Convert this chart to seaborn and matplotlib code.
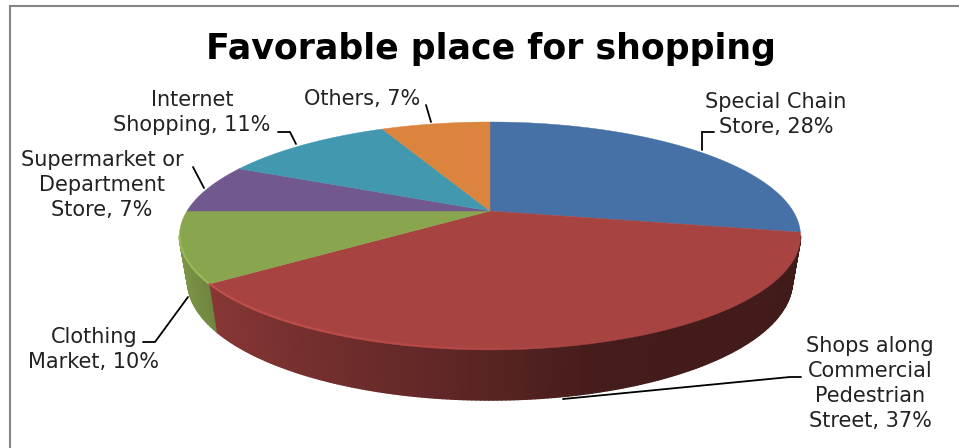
import numpy as np
import matplotlib
matplotlib.use("Agg")
import matplotlib.pyplot as plt
from matplotlib.collections import LineCollection, PolyCollection
import seaborn as sns

# Share of respondents per shopping place, clockwise from twelve o'clock
categories = ["Special Chain Store", "Shops along Commercial Pedestrian Street",
              "Clothing Market", "Supermarket or Department Store",
              "Internet Shopping", "Others"]
values = [28, 37, 10, 7, 11, 7]
slice_colors = ["#4571A7", "#A74442", "#89A54E", "#71588F", "#4198AF", "#DB843D"]
label_templates = ["Special Chain\nStore, {}%", "Shops along\nCommercial\nPedestrian\nStreet, {}%",
                   "Clothing\nMarket, {}%", "Supermarket or\nDepartment\nStore, {}%",
                   "Internet\nShopping, {}%", "Others, {}%"]
label_centres = [(776, 102), (870, 346), (94, 337), (102, 160), (192, 100), (362, 99)]
leaders = [[(714, 132), (702, 132), (702, 150)],
           [(801, 377), (790, 377), (563, 399)],
           [(143, 342), (155, 342), (188, 297)],
           [(193, 167), (204, 188)],
           [(278, 132), (290, 132), (296, 144)],
           [(426, 105), (431, 122)]]

sns.set_theme(style="white")
plt.rcParams["font.family"] = ["DejaVu Sans"]

fig = plt.figure(figsize=(9.59, 4.48), dpi=100)
ax = fig.add_axes([0, 0, 1, 1])
ax.set_xlim(0, 959)
ax.set_ylim(448, 0)
ax.axis("off")

CX = 490
Q = 0.219  # perspective foreshortening of the disc


def project(theta, half_w, half_h, apex_y):
    """Perspective projection of a disc point at clockwise angle theta."""
    u, v = np.sin(theta), np.cos(theta)
    d = 1 + Q * v
    return CX + half_w * u / d, apex_y - half_h * v / d


def top_face(theta):
    return project(theta, 303, 108.5, 211)


def bottom_face(theta):
    return project(theta, 295, 113.3, 255)


def shade(x):
    """Darkening of the side wall from left to right."""
    return np.interp(x, [178, 213, 300, 480, 600, 801], [0.90, 0.80, 0.70, 0.54, 0.41, 0.39])


palette = sns.color_palette(slice_colors)
edges = np.radians(np.concatenate([[0], np.cumsum(values)]) / np.sum(values) * 360)
front_lo = np.pi / 2 + np.arcsin(Q)
front_hi = 3 * np.pi / 2 - np.arcsin(Q)

# Side wall: short overlapping quads along the visible front of every slice
for start, end, base in zip(edges[:-1], edges[1:], palette):
    lo, hi = max(start, front_lo), min(end, front_hi)
    if hi <= lo:
        continue
    angles = np.linspace(lo, hi, max(int((hi - lo) * 90), 2))
    xt, yt = top_face(angles)
    xb, yb = bottom_face(angles)
    quads, faces = [], []
    for i in range(len(angles) - 1):
        quads.append([(xt[i], yt[i]), (xt[i + 1], yt[i + 1]), (xb[i + 1], yb[i + 1]), (xb[i], yb[i])])
        faces.append(np.array(base) * shade((xt[i] + xt[i + 1]) / 2))
    ax.add_collection(PolyCollection(quads, facecolors=faces, edgecolors=faces, linewidths=1.0, zorder=2))

# Top face of the disc
for start, end, base in zip(edges[:-1], edges[1:], palette):
    angles = np.linspace(start, end, 200)
    xs, ys = top_face(angles)
    ax.fill(np.r_[CX, xs], np.r_[211, ys], color=base, lw=0.3, zorder=3)

# Bevel highlight along the front rim, fading to the right
for start, end, base in zip(edges[:-1], edges[1:], palette):
    lo, hi = max(start, front_lo), min(end, front_hi)
    if hi <= lo:
        continue
    angles = np.linspace(lo, hi, 160)
    xs, ys = top_face(angles)
    pts = np.column_stack([xs, ys - 1])
    segs = np.stack([pts[:-1], pts[1:]], axis=1)
    alpha = np.interp(xs[:-1], [200, 480, 590], [0.9, 0.35, 0.0])
    light = np.clip(np.array(base) * 1.2, 0, 1)
    rgba = np.column_stack([np.tile(light, (len(alpha), 1)), alpha])
    ax.add_collection(LineCollection(segs, colors=rgba, linewidths=1.5, zorder=4))

# Chart frame (open at the right and bottom)
ax.plot([9.5, 9.5, 959], [448, 6.5, 6.5], color="#868686", lw=1.5, solid_joinstyle="miter", zorder=1)

# Title
ax.text(491, 59, "Favorable place for shopping", ha="center", va="baseline",
        fontsize=25, fontweight="bold", color="black", zorder=6)

# Data labels, one centred line at a time, with their leader lines
for template, value, (cx, cy), leader in zip(label_templates, values, label_centres, leaders):
    for i, line in enumerate(template.format(value).split("\n")):
        ax.text(cx, cy + 6 + i * 25, line, ha="center", va="baseline",
                fontsize=15, color="#222222", zorder=6)
    lx, ly = zip(*leader)
    ax.plot(lx, ly, color="black", lw=1.3, solid_joinstyle="miter", zorder=5)

fig.savefig("out.png", dpi=100, facecolor="white")
